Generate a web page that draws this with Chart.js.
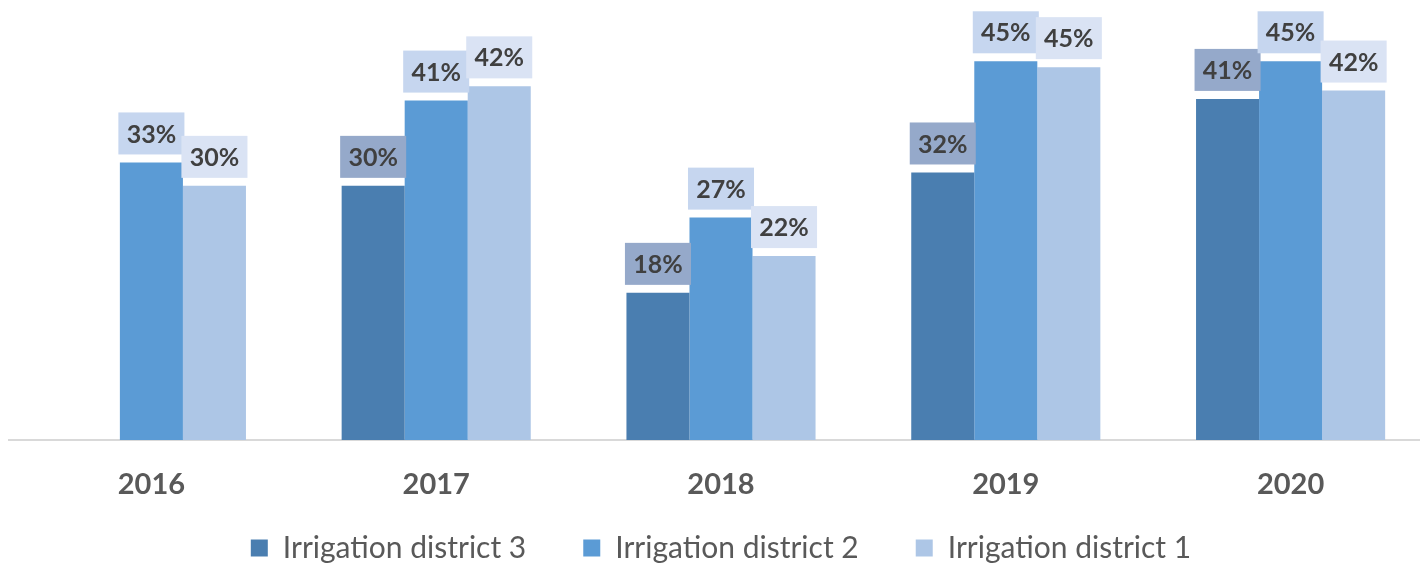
<!DOCTYPE html>
<html>
<head>
<meta charset="utf-8">
<script src="https://cdn.jsdelivr.net/npm/chart.js@4.4.1/dist/chart.umd.min.js"></script>
<style>
  html, body { margin: 0; padding: 0; background: #fff; overflow: hidden; }
  #wrap { position: relative; width: 1420px; height: 564px; overflow: hidden; }
  #chart { position: absolute; left: 0; top: 0; }
</style>
</head>
<body>
<div id="wrap"><canvas id="chart" width="1442" height="574"></canvas></div>
<script>
// anni e valori (%)
const anni = ['2016', '2017', '2018', '2019', '2020'];
const distretto3 = [null, 30.4, 17.6, 32.0, 40.8];
const distretto2 = [33.2, 40.6, 26.6, 45.3, 45.3];
const distretto1 = [30.4, 42.3, 22.0, 44.6, 41.8];
const nomi = ['Irrigation district 3', 'Irrigation district 2', 'Irrigation district 1'];

Chart.defaults.font.family = 'Lato';

// etichette con riquadro sopra le barre
const etichette = {
  id: 'etichette',
  afterLayout(chart) {
    // lascia spazio alle etichette dell'asse x (niente taglio)
    chart.scales.x.bottom = chart.scales.x.top + 70;
  },
  afterDatasetsDraw(chart) {
    const ctx = chart.ctx;
    ctx.save();
    chart.data.datasets.forEach((ds, i) => {
      const meta = chart.getDatasetMeta(i);
      meta.data.forEach((bar, j) => {
        const v = ds.data[j];
        if (v == null) return;
        const w = bar.width + 3, h = 42;
        const x = bar.x - w / 2, y = bar.y - 8 - h;
        ctx.fillStyle = ds.boxColor;
        ctx.fillRect(x, y, w, h);
        ctx.font = 'bold 25px Lato';
        ctx.fillStyle = '#404040';
        ctx.textAlign = 'center';
        ctx.textBaseline = 'middle';
        ctx.fillText(Math.round(v) + '%', bar.x, y + h / 2 + 1);
      });
    });
    ctx.restore();
  }
};

const ctx = document.getElementById('chart');
const myChart = new Chart(ctx, {
  type: 'bar',
  data: {
    labels: anni,
    datasets: [
      { label: nomi[0], data: distretto3, backgroundColor: '#4a7eb0', boxColor: '#95a9ca' },
      { label: nomi[1], data: distretto2, backgroundColor: '#5b9bd5', boxColor: '#c6d6ef' },
      { label: nomi[2], data: distretto1, backgroundColor: '#adc6e6', boxColor: '#dae3f4' }
    ]
  },
  options: {
    responsive: false,
    animation: false,
    devicePixelRatio: 1,
    categoryPercentage: 0.664,
    barPercentage: 1,
    layout: { padding: { left: 9, right: 9, top: 22, bottom: 1 } },
    scales: {
      x: {
        grid: { display: false, drawTicks: false },
        border: { display: true, color: '#d9d9d9', width: 2 },
        ticks: { padding: 27, color: '#595959', font: { size: 29, weight: 'bold' } },
        afterFit(scale) { scale.height = 36; }
      },
      y: { display: false, min: 0, max: 50 }
    },
    plugins: {
      legend: {
        position: 'bottom',
        labels: {
          boxWidth: 17,
          boxHeight: 17,
          padding: 57,
          color: '#595959',
          font: { size: 30 }
        }
      },
      tooltip: { enabled: false }
    }
  },
  plugins: [etichette]
});
</script>
</body>
</html>
